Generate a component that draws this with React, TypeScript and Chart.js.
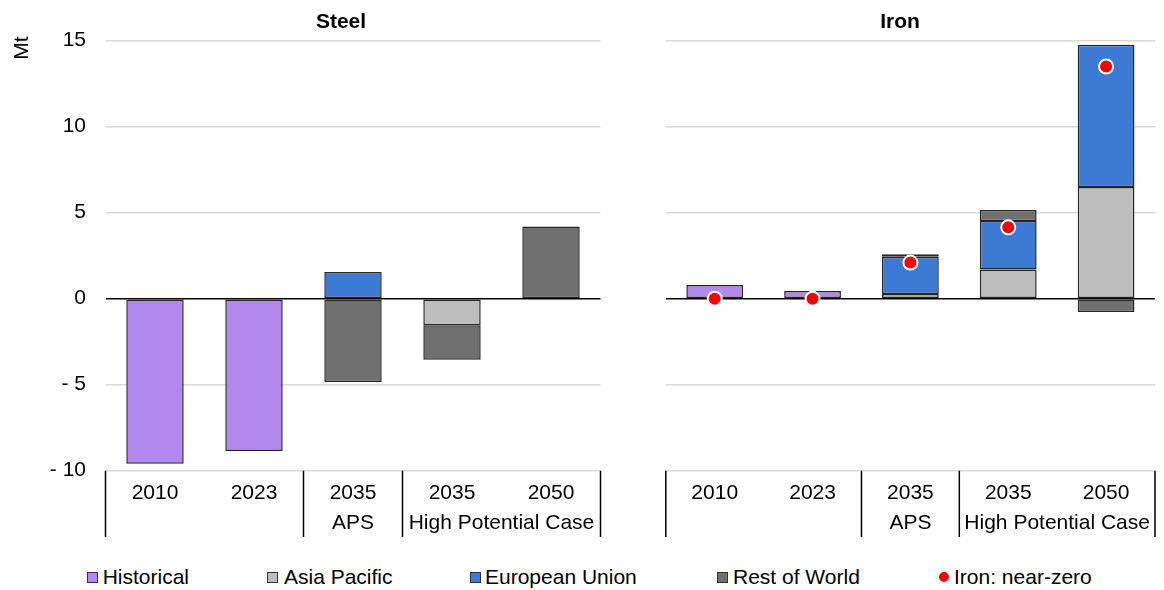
import React, { useEffect, useRef } from 'react';
import { Chart, registerables } from 'chart.js';

Chart.register(...registerables);

const FONT = '"Liberation Sans", Arial, sans-serif';

// ---- Data ----
const categories = ['2010', '2023', '2035', '2035', '2050'];
const groupNames = ['', 'APS', 'High Potential Case'];
const groupSpans = [[0, 1], [2, 2], [3, 4]];
const yMin = -10;
const yMax = 15;
const yStep = 5;

const steelHistorical = [-9.6, -8.85, null, null, null];
const steelAsiaPacific = [null, null, null, -1.55, null];
const steelEU = [null, null, 1.55, null, null];
const steelRestOfWorld = [null, null, -4.85, -2.0, 4.2];

const ironHistorical = [0.8, 0.45, null, null, null];
const ironAsiaPacific = [null, null, 0.27, 1.7, 6.5];
const ironEU = [null, null, 2.17, 2.82, 8.27];
const ironRestOfWorld = [null, null, 0.14, 0.64, -0.77];
const ironNearZero = [0, 0, 2.1, 4.15, 13.5];

const seriesNames = ['Historical', 'Asia Pacific', 'European Union', 'Rest of World', 'Iron: near-zero'];
const seriesColors = ['#B388EE', '#BDBDBD', '#3D7AD4', '#6F706F', '#FF0000'];

function barDataset(label: string, data: (number | null)[], color: string) {
  return {
    type: 'bar' as const,
    label,
    data,
    backgroundColor: color,
    borderColor: '#262626',
    borderWidth: 1.5,
    borderSkipped: false,
    barPercentage: 0.58,
    categoryPercentage: 1,
    order: 1,
  };
}

function decorPlugin(title: string, titleX: number, withMt: boolean) {
  return {
    id: 'panelDecor',
    afterDraw(chart: any) {
      const ctx = chart.ctx as CanvasRenderingContext2D;
      const xs = chart.scales.x;
      const area = chart.chartArea;
      ctx.save();
      ctx.fillStyle = '#000';
      ctx.textAlign = 'center';
      ctx.textBaseline = 'alphabetic';
      ctx.font = `bold 21px ${FONT}`;
      ctx.fillText(title, titleX, 28.3);
      ctx.font = `21px ${FONT}`;
      if (withMt) {
        ctx.save();
        ctx.translate(28.3, 48);
        ctx.rotate(-Math.PI / 2);
        ctx.fillText('Mt', 0, 0);
        ctx.restore();
      }
      categories.forEach((c, i) => {
        ctx.fillText(c, xs.getPixelForValue(i), 498.5);
      });
      groupSpans.forEach((span, g) => {
        const cx = (xs.getPixelForValue(span[0]) + xs.getPixelForValue(span[1])) / 2;
        if (groupNames[g]) ctx.fillText(groupNames[g], cx, 528.5);
      });
      const edges: number[] = [area.left];
      for (let g = 0; g < groupSpans.length - 1; g++) {
        const e = groupSpans[g][1];
        edges.push((xs.getPixelForValue(e) + xs.getPixelForValue(e + 1)) / 2);
      }
      edges.push(area.right);
      ctx.strokeStyle = '#000';
      ctx.lineWidth = 1.5;
      ctx.beginPath();
      edges.forEach((x) => {
        ctx.moveTo(x, area.bottom);
        ctx.lineTo(x, 537);
      });
      ctx.stroke();
      ctx.restore();
    },
  };
}

function makeOptions(axisWidth: number, showTicks: boolean, padRight: number) {
  return {
    responsive: false,
    animation: false as const,
    layout: { padding: { left: 0, right: padRight, top: 40.7, bottom: 545 - 470.7 } },
    plugins: { legend: { display: false }, tooltip: { enabled: false }, title: { display: false } },
    scales: {
      x: { display: false, stacked: true, offset: true },
      y: {
        stacked: true,
        min: yMin,
        max: yMax,
        border: { display: false },
        afterFit(scale: any) {
          scale.width = axisWidth;
        },
        grid: {
          drawTicks: false,
          color: (c: any) => (c.tick && c.tick.value === 0 ? '#000000' : '#D9D9D9'),
          lineWidth: (c: any) => (c.tick && c.tick.value === 0 ? 1.5 : 1.5),
        },
        ticks: {
          display: showTicks,
          stepSize: yStep,
          padding: 19.5,
          color: '#000',
          font: { size: 21, family: FONT },
          callback: (v: any) => (v < 0 ? '- ' + Math.abs(v) : String(v)),
        },
      },
    },
  };
}

export default function App() {
  const steelRef = useRef<HTMLCanvasElement>(null);
  const ironRef = useRef<HTMLCanvasElement>(null);

  useEffect(() => {
    document.body.style.margin = '0';
    Chart.defaults.font.family = FONT;
    const steel = new Chart(steelRef.current as HTMLCanvasElement, {
      type: 'bar',
      data: {
        labels: categories,
        datasets: [
          barDataset(seriesNames[0], steelHistorical, seriesColors[0]),
          barDataset(seriesNames[1], steelAsiaPacific, seriesColors[1]),
          barDataset(seriesNames[2], steelEU, seriesColors[2]),
          barDataset(seriesNames[3], steelRestOfWorld, seriesColors[3]),
        ] as any,
      },
      options: makeOptions(105.5, true, 19.5) as any,
      plugins: [decorPlugin('Steel', 341, true)],
    });
    const iron = new Chart(ironRef.current as HTMLCanvasElement, {
      type: 'bar',
      data: {
        labels: categories,
        datasets: [
          barDataset(seriesNames[0], ironHistorical, seriesColors[0]),
          barDataset(seriesNames[1], ironAsiaPacific, seriesColors[1]),
          barDataset(seriesNames[2], ironEU, seriesColors[2]),
          barDataset(seriesNames[3], ironRestOfWorld, seriesColors[3]),
          {
            type: 'line',
            label: seriesNames[4],
            data: ironNearZero,
            showLine: false,
            stack: 'dots',
            order: 0,
            pointRadius: 7,
            pointBackgroundColor: seriesColors[4],
            pointBorderColor: '#FFFFFF',
            pointBorderWidth: 2,
          },
        ] as any,
      },
      options: makeOptions(45.8, false, 2.7) as any,
      plugins: [decorPlugin('Iron', 280, false)],
    });
    return () => {
      steel.destroy();
      iron.destroy();
    };
  }, []);

  const legendSquares = [86.7, 266.7, 470, 716.7, 939.3];
  const legendTexts = [102.7, 284, 485, 733, 954];

  return (
    <div style={{ position: 'relative', width: 1164, height: 590, background: '#fff', overflow: 'hidden' }}>
      <canvas ref={steelRef} width={620} height={545} style={{ position: 'absolute', left: 0, top: 0 }} />
      <canvas ref={ironRef} width={544} height={545} style={{ position: 'absolute', left: 620, top: 0 }} />
      {seriesNames.map((name, i) => (
        <React.Fragment key={name}>
          <div
            style={{
              position: 'absolute',
              left: legendSquares[i],
              top: i === 4 ? 572 : 571.7,
              width: i === 4 ? 10 : 9,
              height: i === 4 ? 10 : 9,
              background: seriesColors[i],
              border: i === 4 ? 'none' : '1px solid #333',
              borderRadius: i === 4 ? '50%' : 0,
            }}
          />
          <div
            style={{
              position: 'absolute',
              left: legendTexts[i],
              top: 564.7,
              font: `21px ${FONT}`,
              lineHeight: '24px',
              color: '#000',
              whiteSpace: 'nowrap',
            }}
          >
            {name}
          </div>
        </React.Fragment>
      ))}
    </div>
  );
}
